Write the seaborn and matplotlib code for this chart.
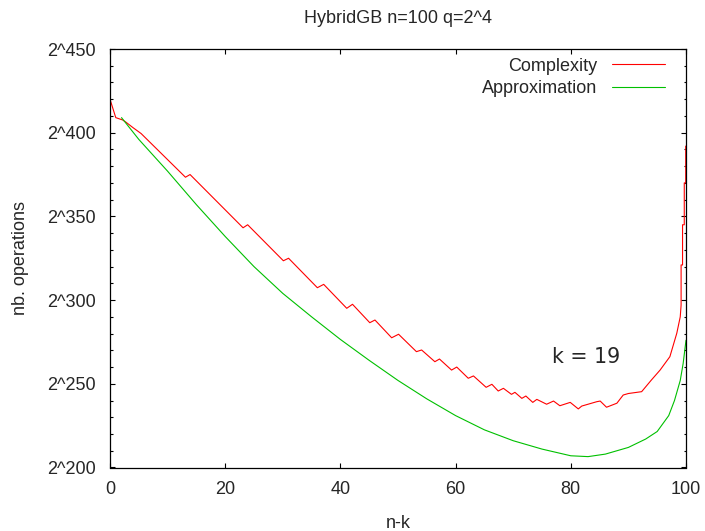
import matplotlib
matplotlib.use("Agg")
import matplotlib.pyplot as plt
import seaborn as sns
import pandas as pd
from matplotlib.ticker import MultipleLocator, FuncFormatter

# n-k on x, log2 of operation count on y
complexity_x = [0, 1, 2.2, 2.8, 4, 5.4, 13.1, 13.9, 23.1, 23.9, 30.1, 31, 36, 37.1,
                41.1, 42.1, 45.1, 46, 48.9, 50.1, 53.2, 54.1, 56.4, 57.2, 59.3, 60.2,
                62.2, 63.1, 65.3, 66.3, 67.4, 68.3, 69.7, 70.3, 71.5, 72.2, 73.4, 74.1,
                75.8, 77, 78.1, 79.9, 81.3, 81.9, 84.5, 85.1, 86.2, 88, 89.1, 90, 92.3,
                94, 95.5, 97.2, 98.4, 99.0, 99.15, 99.15, 99.4, 99.4, 99.7, 99.7,
                99.95, 99.95]
complexity_y = [420, 409, 407.6, 406.2, 403, 399.5, 373.4, 375, 343.2, 345, 323.5, 325,
                307.4, 309.4, 295.1, 297.5, 286.5, 288.1, 277.5, 279.6, 269.2, 270.2,
                263.2, 264.8, 258.2, 260, 253.3, 254.7, 247.9, 249.7, 245.7, 247.3,
                243.7, 244.9, 241.3, 242.7, 238.9, 240.7, 237.8, 239.7, 236.9, 238.9,
                235, 236.7, 239.3, 239.7, 236, 238.4, 243.3, 244.2, 245.3, 252.3, 258.2,
                266.2, 280.2, 290, 297, 321, 321, 345, 345, 370, 370, 392]

approx_x = [2, 5, 10, 15, 20, 25, 30, 35, 40, 45, 50, 55, 60, 65, 70, 75, 80, 83, 86,
            90, 93, 95, 97, 98, 99, 99.5, 100]
approx_y = [409, 396, 377, 357, 338, 320, 304, 290, 276.5, 264, 252, 241, 231, 222.5,
            216, 211, 207, 206.5, 208, 212, 217, 221.5, 231, 240, 252, 262, 276]

title = "HybridGB n=100 q=2^4"
annotation = "k = 19"

sns.set_style("ticks")
plt.rcParams["font.family"] = ["Liberation Sans", "DejaVu Sans"]

fig = plt.figure(figsize=(7.05, 5.31), dpi=100)
ax = fig.add_axes([110 / 705, 1 - 467.5 / 531, 576 / 705, 418.5 / 531])

df_c = pd.DataFrame({"x": complexity_x, "y": complexity_y})
df_a = pd.DataFrame({"x": approx_x, "y": approx_y})
sns.lineplot(data=df_c, x="x", y="y", ax=ax, color="#ff0000", lw=0.8,
             estimator=None, sort=False, label="Complexity")
sns.lineplot(data=df_a, x="x", y="y", ax=ax, color="#00c000", lw=0.8,
             estimator=None, sort=False, label="Approximation")

ax.set_xlim(0, 100)
ax.set_ylim(200, 450)
ax.xaxis.set_major_locator(MultipleLocator(20))
ax.yaxis.set_major_locator(MultipleLocator(50))
ax.yaxis.set_minor_locator(MultipleLocator(10))
ax.yaxis.set_major_formatter(FuncFormatter(lambda v, p: "2^%d" % v))
ax.tick_params(which="both", direction="in", top=True, right=True, labelsize=13,
               color="black", width=0.8)
ax.tick_params(which="major", length=3.5, pad=10)
ax.tick_params(which="minor", length=1.8)
for s in ax.spines.values():
    s.set_linewidth(0.9)
    s.set_color("black")

ax.set_xlabel("n-k", fontsize=13, labelpad=12)
ax.set_ylabel("nb. operations", fontsize=13, labelpad=13)
ax.set_title(title, fontsize=13, pad=19)
ax.text(82.7, 266.3, annotation, family="DejaVu Sans", fontsize=14.8,
        ha="center", va="center")

ax.legend(loc="upper right", bbox_to_anchor=(0.9635, 0.979), frameon=False,
          markerfirst=False, fontsize=13, handlelength=2.95, handletextpad=0.8,
          labelspacing=0.3, borderaxespad=0, borderpad=0)

fig.savefig("out.png", dpi=100)
